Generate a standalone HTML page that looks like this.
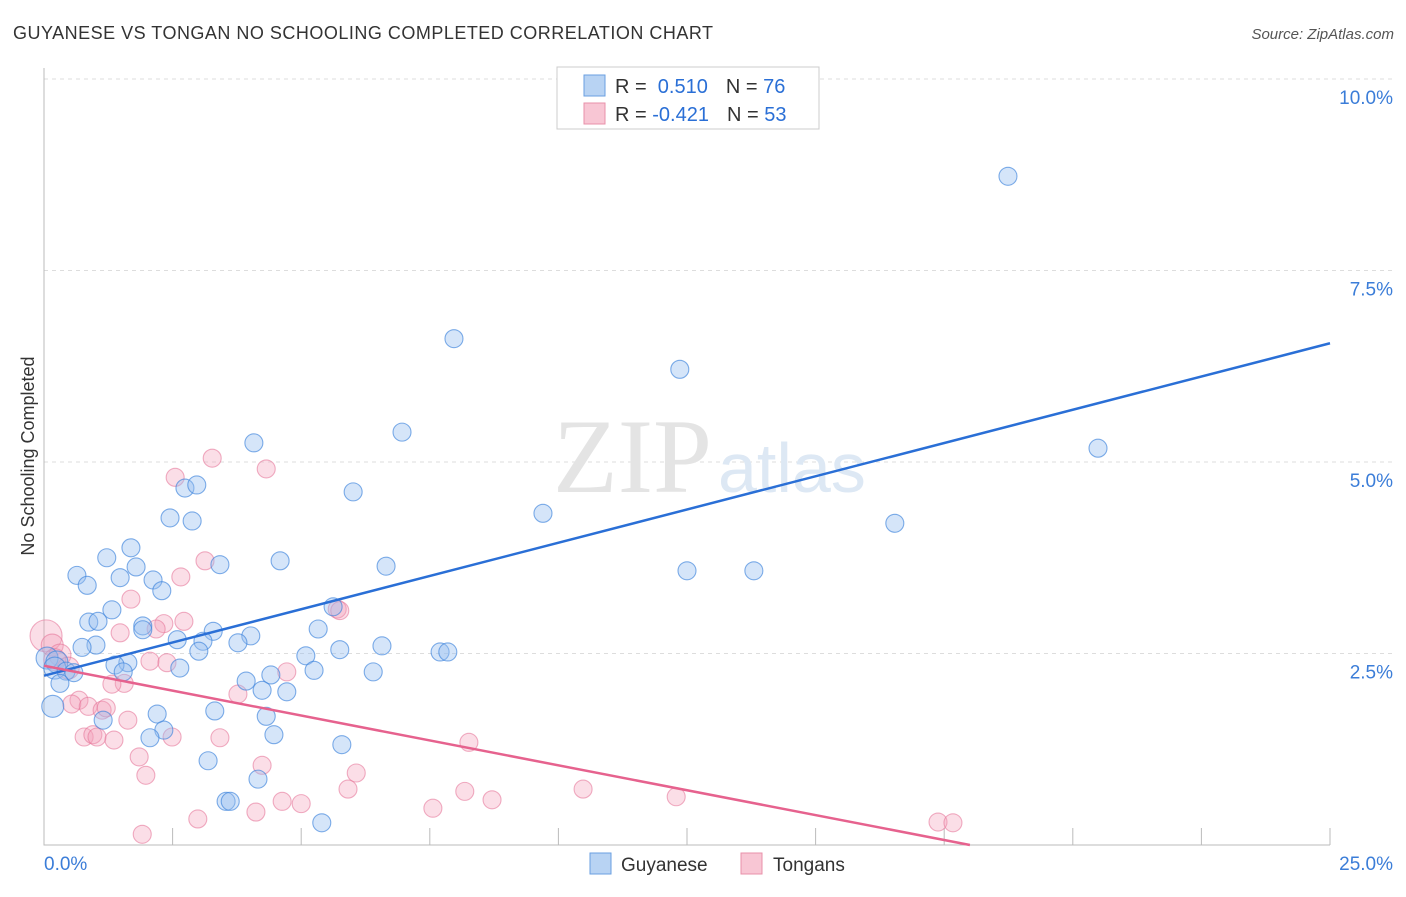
<!DOCTYPE html>
<html><head><meta charset="utf-8"><style>
body{margin:0;background:#fff;font-family:"Liberation Sans",sans-serif}
</style></head><body>
<svg id="chart" width="1406" height="892" xmlns="http://www.w3.org/2000/svg" font-family="Liberation Sans, sans-serif">
<text x="13" y="39" font-size="18" fill="#333" textLength="700">GUYANESE VS TONGAN NO SCHOOLING COMPLETED CORRELATION CHART</text>
<text x="1394" y="39" font-size="15" fill="#555" text-anchor="end" font-style="italic">Source: ZipAtlas.com</text>
<g id="grid"></g>
<text x="553" y="492" font-size="106" fill="#e4e4e4" font-family="Liberation Serif, serif">ZIP</text>
<text x="718" y="492" font-size="70" fill="#dde8f4">atlas</text>
<text transform="translate(34,456) rotate(-90)" font-size="18" fill="#333" text-anchor="middle">No Schooling Completed</text>
<g id="points"></g>
<g id="lines"></g>
<g>
<rect x="557" y="67" width="262" height="62" fill="#fff" stroke="#ccc"/>
<rect x="584" y="75" width="21" height="21" fill="#b8d3f3" stroke="#6a9fe0"/>
<rect x="584" y="103" width="21" height="21" fill="#f8c6d4" stroke="#e890aa"/>
<text x="615" y="93" font-size="20" fill="#333">R = <tspan fill="#2a6fd6">&#160;0.510</tspan><tspan dx="18">N = </tspan><tspan fill="#2a6fd6">76</tspan></text>
<text x="615" y="121" font-size="20" fill="#333">R = <tspan fill="#2a6fd6">-0.421</tspan><tspan dx="18">N = </tspan><tspan fill="#2a6fd6">53</tspan></text>
</g>
<g>
<rect x="590" y="853" width="21" height="21" fill="#b8d3f3" stroke="#6a9fe0"/>
<text x="621" y="871" font-size="19" fill="#333">Guyanese</text>
<rect x="741" y="853" width="21" height="21" fill="#f8c6d4" stroke="#e890aa"/>
<text x="773" y="871" font-size="19" fill="#333">Tongans</text>
</g>
</svg>
<script>
const yTicks=[2.5,5,7.5,10];
const yTickLabels=["2.5%","5.0%","7.5%","10.0%"];
const xTickLabels=["0.0%","25.0%"];
const blueX=[18.74,7.97,12.36,6.96,4.08,20.49,2.74,2.97,6.01,9.70,2.45,2.88,16.54,1.69,1.22,4.59,3.42,1.79,0.64,1.48,2.12,0.84,2.29,6.65,12.50,13.80,5.62,1.32,0.87,1.05,1.92,1.92,5.33,3.29,4.02,2.59,3.09,3.77,1.01,0.74,6.57,3.01,5.75,7.70,7.85,5.09,0.06,0.25,1.63,1.38,0.21,0.43,0.58,2.64,5.25,6.40,4.41,1.54,0.31,3.93,4.24,4.72,0.17,3.32,2.20,4.32,1.15,2.33,2.06,4.47,5.79,3.19,4.16,3.54,3.62,5.40];
const blueY=[8.73,6.61,6.21,5.39,5.25,5.18,4.66,4.70,4.61,4.33,4.27,4.23,4.20,3.88,3.75,3.71,3.66,3.63,3.52,3.49,3.46,3.39,3.32,3.64,3.58,3.58,3.11,3.07,2.91,2.92,2.86,2.81,2.82,2.79,2.73,2.68,2.66,2.64,2.61,2.58,2.60,2.53,2.55,2.52,2.52,2.47,2.44,2.39,2.38,2.35,2.31,2.27,2.25,2.31,2.28,2.26,2.22,2.26,2.11,2.14,2.02,2.00,1.81,1.75,1.71,1.68,1.63,1.50,1.40,1.44,1.31,1.10,0.86,0.57,0.57,0.29];
const pinkX=[0.04,0.16,0.31,0.21,0.47,2.55,3.27,4.32,3.13,2.66,1.69,5.70,2.72,2.33,2.18,1.48,2.06,2.39,4.72,3.77,1.56,1.32,0.68,0.54,0.86,1.13,1.21,1.63,0.78,0.95,1.03,1.36,2.49,3.42,8.26,1.85,4.24,6.07,1.98,5.91,10.48,8.18,8.71,4.63,7.56,5.00,4.12,12.29,2.99,17.38,17.67,1.91,5.75];
const pinkY=[2.73,2.61,2.48,2.42,2.31,4.80,5.05,4.91,3.71,3.50,3.21,3.08,2.92,2.89,2.82,2.77,2.40,2.38,2.26,1.97,2.11,2.10,1.89,1.84,1.81,1.76,1.79,1.63,1.41,1.44,1.41,1.37,1.41,1.40,1.34,1.15,1.04,0.94,0.91,0.73,0.73,0.70,0.59,0.57,0.48,0.54,0.43,0.63,0.34,0.30,0.29,0.14,3.06];
const blueLine=[2.21,6.55];
const pinkLine=[2.34,0];
const pinkLineEndX=18.0;
const X0=44,X1=1330,Y0=845,Y10=79;
const xs=v=>X0+(X1-X0)*v/25;
const ys=v=>Y0-(Y0-Y10)*v/10;
const NS="http://www.w3.org/2000/svg";
function mk(t,a,p){const e=document.createElementNS(NS,t);for(const k in a)e.setAttribute(k,a[k]);p.appendChild(e);return e;}
const grid=document.getElementById('grid');
yTicks.forEach((t,i)=>{
 const l=mk('line',{x1:X0,x2:1393,y1:ys(t),y2:ys(t),stroke:'#ddd','stroke-dasharray':'4,4'},grid);
 
 
 const tx=mk('text',{x:1393,y:ys(t)+25,'font-size':19,fill:'#3b7dd8','text-anchor':'end'},grid);
 tx.textContent=yTickLabels[i];
 
 
});
const ax=mk('path',{d:`M${X0} 68V${Y0}H${X1}`,stroke:'#bbb',fill:'none'},grid);


for(let k=1;k<=10;k++){
 const tk=mk('line',{x1:xs(k*2.5),x2:xs(k*2.5),y1:828,y2:Y0,stroke:'#bbb'},grid);
 
 
}
[[0,'start',X0],[1,'end',1393]].forEach(([i,a,x])=>{
 const t=mk('text',{x:x,y:870,'font-size':19,fill:'#3b7dd8','text-anchor':a},grid);
 t.textContent=xTickLabels[i];
 
 
});
const pts=document.getElementById('points');
pinkX.forEach((x,i)=>{
 const r=(i===0)?16:(i<5?11:9);
 const c=mk('circle',{cx:xs(x),cy:ys(pinkY[i]),r:r,fill:'rgba(244,160,186,0.35)',stroke:'rgba(230,120,155,0.6)','stroke-width':1.1},pts);
 
 
});
blueX.forEach((x,i)=>{
 const r=(blueX[i]<0.3)?11:9;
 const c=mk('circle',{cx:xs(x),cy:ys(blueY[i]),r:r,fill:'rgba(150,190,240,0.4)',stroke:'rgba(60,130,220,0.65)','stroke-width':1.1},pts);
 
 
});
const ln=document.getElementById('lines');
const bl=mk('line',{x1:xs(0),y1:ys(blueLine[0]),x2:xs(25),y2:ys(blueLine[1]),stroke:'#2a6fd6','stroke-width':2.5},ln);


const pl=mk('line',{x1:xs(0),y1:ys(pinkLine[0]),x2:xs(pinkLineEndX),y2:ys(pinkLine[1]),stroke:'#e6628e','stroke-width':2.5},ln);


</script>
</body></html>
